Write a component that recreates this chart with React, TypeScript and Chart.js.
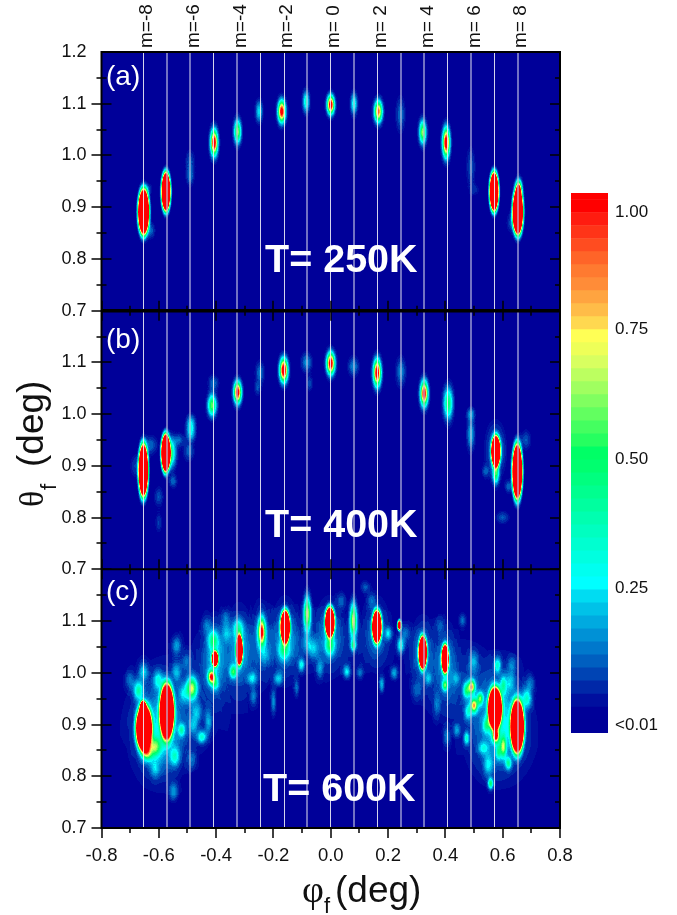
import React, { useEffect, useRef } from "react";
import { Chart, registerables } from "chart.js";

Chart.register(...registerables);

const FONT = '"Liberation Sans", Arial, sans-serif';

// Spots: [phi (deg), theta (deg), peak intensity, spread in phi (deg), spread in theta (deg)]
const spots250K = [
  [-0.653, 0.891, 2.5, 0.015, 0.034], [-0.628, 0.855, 0.12, 0.009, 0.01], [-0.638, 0.935, 0.09, 0.01, 0.007],
  [-0.575, 0.93, 2.5, 0.012, 0.029], [-0.491, 0.99, 0.1, 0.01, 0.014], [-0.491, 0.96, 0.13, 0.009, 0.012],
  [-0.407, 1.025, 1.15, 0.008, 0.016], [-0.325, 1.046, 0.65, 0.008, 0.0147], [-0.25, 1.085, 0.25, 0.008, 0.0135],
  [-0.171, 1.085, 1.1, 0.0085, 0.0135], [-0.086, 1.104, 0.35, 0.0075, 0.0135], [0, 1.098, 1.15, 0.008, 0.0115],
  [0.081, 1.1, 0.32, 0.0075, 0.0135], [0.166, 1.085, 0.9, 0.009, 0.0135], [0.244, 1.079, 0.13, 0.0105, 0.021],
  [0.321, 1.045, 0.65, 0.008, 0.0147], [0.403, 1.025, 1.15, 0.008, 0.018], [0.489, 0.978, 0.1, 0.01, 0.024],
  [0.5, 0.934, 0.06, 0.012, 0.008], [0.57, 0.93, 2.5, 0.012, 0.029], [0.653, 0.891, 2.5, 0.014, 0.034],
  [0.656, 0.934, 0.9, 0.007, 0.012], [0.635, 0.87, 0.12, 0.012, 0.012],
];

const spots400K = [
  [-0.654, 0.891, 2.5, 0.013, 0.039], [-0.68, 0.9, 0.08, 0.012, 0.015], [-0.63, 0.94, 0.12, 0.016, 0.012],
  [-0.6, 0.84, 0.1, 0.01, 0.012], [-0.576, 0.925, 2.5, 0.012, 0.028], [-0.56, 0.925, 0.5, 0.012, 0.018],
  [-0.55, 0.87, 0.12, 0.009, 0.008], [-0.53, 0.95, 0.12, 0.012, 0.008], [-0.6, 0.79, 0.08, 0.008, 0.012],
  [-0.488, 0.983, 0.24, 0.01, 0.01], [-0.488, 0.963, 0.24, 0.01, 0.01], [-0.495, 0.928, 0.12, 0.012, 0.012],
  [-0.414, 1.017, 0.6, 0.0098, 0.0135], [-0.41, 1.06, 0.12, 0.012, 0.01], [-0.325, 1.042, 1.1, 0.0085, 0.0135],
  [-0.247, 1.08, 0.14, 0.01, 0.014], [-0.255, 1.05, 0.09, 0.008, 0.009], [-0.164, 1.085, 1.2, 0.009, 0.0145],
  [-0.084, 1.1, 0.16, 0.012, 0.012], [-0.074, 1.06, 0.09, 0.008, 0.01], [0, 1.098, 1.15, 0.009, 0.0135],
  [0.079, 1.092, 0.15, 0.012, 0.012], [0.162, 1.08, 1.15, 0.0085, 0.0165], [0.245, 1.082, 0.15, 0.011, 0.018],
  [0.326, 1.04, 1.1, 0.0085, 0.0155], [0.41, 1.021, 0.5, 0.0105, 0.02], [0.489, 0.961, 0.2, 0.009, 0.02],
  [0.489, 1, 0.17, 0.009, 0.008], [0.576, 0.928, 2.5, 0.012, 0.023], [0.576, 0.884, 0.5, 0.007, 0.012],
  [0.576, 0.93, 0.2, 0.02, 0.03], [0.651, 0.889, 2.5, 0.0135, 0.041], [0.68, 0.95, 0.1, 0.012, 0.012],
  [0.6, 0.8, 0.1, 0.015, 0.008], [0.62, 0.86, 0.12, 0.008, 0.008], [0.54, 0.89, 0.1, 0.008, 0.008],
];

const spots600K = [
  [-0.55, 0.93, 0.08, 0.11, 0.07], [-0.33, 1.02, 0.06, 0.1, 0.06], [0.05, 1.05, 0.04, 0.14, 0.04], [0.45, 0.98, 0.07, 0.1, 0.06],
  [0.58, 0.88, 0.08, 0.08, 0.07], [-0.12, 1.05, 0.04, 0.1, 0.04],
  [-0.159, 1.075, 0.14, 0.028, 0.04], [-0.003, 1.08, 0.12, 0.03, 0.04], [0.161, 1.08, 0.12, 0.028, 0.04], [0.321, 1.04, 0.14, 0.025, 0.04],
  [0.399, 1.02, 0.14, 0.022, 0.04], [-0.404, 1.03, 0.18, 0.024, 0.04], [-0.319, 1.05, 0.16, 0.024, 0.04], [-0.6, 0.88, 0.2, 0.05, 0.05],
  [0.6, 0.91, 0.18, 0.05, 0.05], [-0.241, 1.07, 0.1, 0.02, 0.04],
  [-0.652, 0.893, 2.5, 0.021, 0.034], [-0.655, 0.932, 1.6, 0.008, 0.011], [-0.572, 0.925, 2.5, 0.019, 0.041],
  [-0.671, 0.966, 0.35, 0.011, 0.012], [-0.654, 1.002, 0.2, 0.011, 0.012], [-0.7, 0.986, 0.12, 0.011, 0.012],
  [-0.602, 0.986, 0.25, 0.011, 0.012], [-0.538, 1.053, 0.15, 0.011, 0.012], [-0.538, 1.002, 0.15, 0.011, 0.012],
  [-0.503, 1.021, 0.1, 0.011, 0.012], [-0.485, 0.97, 0.65, 0.012, 0.014], [-0.468, 0.924, 0.15, 0.011, 0.012],
  [-0.514, 0.96, 0.15, 0.011, 0.012], [-0.52, 0.889, 0.3, 0.008, 0.008], [-0.45, 0.876, 0.3, 0.011, 0.008],
  [-0.48, 0.899, 0.15, 0.011, 0.012], [-0.427, 0.905, 0.15, 0.008, 0.016], [-0.613, 0.857, 0.45, 0.014, 0.012],
  [-0.64, 0.845, 0.5, 0.012, 0.01], [-0.544, 0.838, 0.25, 0.011, 0.012], [-0.613, 0.815, 0.15, 0.011, 0.012],
  [-0.549, 0.77, 0.15, 0.011, 0.012], [-0.485, 0.831, 0.1, 0.011, 0.012], [-0.41, 1.063, 0.35, 0.011, 0.012],
  [-0.404, 1.027, 1.6, 0.009, 0.012], [-0.416, 0.992, 0.9, 0.008, 0.008], [-0.404, 0.979, 0.3, 0.008, 0.008],
  [-0.34, 1.002, 0.45, 0.008, 0.008], [-0.319, 1.044, 2.2, 0.009, 0.022], [-0.323, 1.085, 0.3, 0.011, 0.012],
  [-0.363, 1.076, 0.15, 0.011, 0.012], [-0.433, 1.092, 0.1, 0.011, 0.012], [-0.366, 1.105, 0.1, 0.011, 0.012],
  [-0.274, 0.989, 0.22, 0.011, 0.008], [-0.27, 0.954, 0.12, 0.008, 0.012], [-0.241, 1.079, 0.95, 0.008, 0.017],
  [-0.229, 1.034, 0.1, 0.011, 0.012], [-0.182, 0.989, 0.2, 0.011, 0.008], [-0.2, 0.944, 0.15, 0.006, 0.016],
  [-0.159, 1.089, 2.5, 0.0125, 0.024], [-0.163, 1.044, 0.35, 0.012, 0.012], [-0.061, 1.047, 0.15, 0.012, 0.012],
  [-0.102, 1.015, 0.25, 0.007, 0.008], [-0.038, 1.008, 0.15, 0.008, 0.012], [-0.119, 0.97, 0.12, 0.006, 0.012],
  [-0.082, 1.114, 0.7, 0.008, 0.022], [-0.082, 1.056, 0.12, 0.011, 0.012], [-0.003, 1.098, 2.5, 0.0125, 0.022],
  [-0.003, 1.053, 0.4, 0.01, 0.012], [0.079, 1.101, 0.7, 0.008, 0.022], [0.079, 1.053, 0.4, 0.006, 0.007],
  [0.056, 1.002, 0.25, 0.008, 0.008], [0.102, 1, 0.12, 0.008, 0.008], [0.038, 1.14, 0.1, 0.011, 0.01],
  [0.12, 1.166, 0.1, 0.011, 0.008], [0.161, 1.089, 2.5, 0.0125, 0.024], [0.143, 1.14, 0.1, 0.011, 0.01],
  [0.201, 1.076, 0.2, 0.008, 0.008], [0.178, 0.977, 0.2, 0.006, 0.01], [0.221, 1, 0.18, 0.008, 0.008],
  [0.24, 1.092, 1.25, 0.006, 0.008], [0.244, 1.053, 0.3, 0.008, 0.01], [0.259, 1.076, 0.12, 0.012, 0.012],
  [0.321, 1.039, 2.5, 0.011, 0.024], [0.341, 0.989, 0.15, 0.008, 0.008], [0.399, 1.027, 2.3, 0.0095, 0.021],
  [0.399, 0.976, 0.5, 0.006, 0.007], [0.46, 1.101, 0.12, 0.008, 0.008], [0.437, 0.989, 0.12, 0.008, 0.008],
  [0.381, 1.092, 0.08, 0.011, 0.012], [0.498, 1.021, 0.15, 0.011, 0.014], [0.492, 0.973, 0.75, 0.008, 0.009],
  [0.5, 0.937, 0.75, 0.008, 0.009], [0.521, 0.95, 0.5, 0.007, 0.008], [0.474, 0.966, 0.4, 0.008, 0.01],
  [0.48, 0.925, 0.25, 0.008, 0.01], [0.573, 0.931, 2.5, 0.018, 0.031], [0.576, 0.878, 1, 0.007, 0.008],
  [0.602, 0.976, 0.3, 0.007, 0.012], [0.602, 0.857, 0.55, 0.007, 0.014], [0.544, 0.899, 0.3, 0.008, 0.01],
  [0.582, 1.015, 0.3, 0.008, 0.01], [0.651, 0.896, 2.5, 0.018, 0.039], [0.684, 0.95, 0.3, 0.011, 0.012],
  [0.695, 0.979, 0.12, 0.011, 0.012], [0.632, 1.015, 0.12, 0.011, 0.012], [0.62, 0.825, 0.35, 0.007, 0.008],
  [0.558, 0.786, 0.45, 0.006, 0.007], [0.55, 0.822, 0.2, 0.011, 0.014], [0.474, 0.873, 0.3, 0.006, 0.008],
  [0.44, 0.889, 0.15, 0.008, 0.008], [0.405, 0.876, 0.12, 0.008, 0.012], [0.532, 0.854, 0.2, 0.011, 0.008],
  [0.37, 0.937, 0.1, 0.008, 0.016], [0.3, 0.966, 0.08, 0.011, 0.012], [0.626, 0.982, 0.15, 0.011, 0.012],
  [0.585, 0.847, 0.3, 0.006, 0.01],
];

const modeValues = [-0.653, -0.571, -0.49, -0.408, -0.326, -0.245, -0.163, -0.082, 0, 0.082, 0.163, 0.245, 0.326, 0.408, 0.49, 0.571, 0.653];
const modeLabels = ["m=-8", "", "m=-6", "", "m=-4", "", "m=-2", "", "m= 0", "", "m= 2", "", "m= 4", "", "m= 6", "", "m= 8"];
const modeLineWide = [0, 1, 1, 0, 1, 0, 0, 1, 0, 1, 0, 1, 1, 0, 1, 0, 1];

const xMinorTicks = [-0.7, -0.5, -0.3, -0.1, 0.1, 0.3, 0.5, 0.7];
const yMinorTicks = [0.75, 0.85, 0.95, 1.05, 1.15];
const panelScales = ["y1", "y2", "y3"];
const panelLetters = ["(a)", "(b)", "(c)"];
const panelTemps = ["T= 250K", "T= 400K", "T= 600K"];

// Colour scale, bottom to top
const colorBands = [
  "#000099", "#000099", "#000f9f", "#0028a8", "#0044b4", "#005fc0", "#0078cc", "#0091d6", "#00aae0", "#00c2e8", "#00dcf2",
  "#00ffff", "#00fff0", "#00ffe0", "#00ffd0", "#00ffc0", "#00ffb0", "#00ff9f", "#00ff8f", "#00ff7f", "#00ff6f", "#00ff66",
  "#26ff60", "#44ff60", "#62ff60", "#80ff60", "#a0ff60", "#bcff60", "#d8ff60", "#eeff58", "#ffff55", "#ffd850", "#ffbc48",
  "#ffa440", "#ff8c38", "#ff7a30", "#ff6428", "#ff4c20", "#ff3418", "#ff1c10", "#ff0000", "#ff0000",
];
const colorTickBands = [40, 31, 21, 11.15, 0.6];
const colorTickLabels = ["1.00", "0.75", "0.50", "0.25", "<0.01"];

const GRAY_PER_UNIT = 100;
const rgbBands = colorBands.map((c) => [parseInt(c.slice(1, 3), 16), parseInt(c.slice(3, 5), 16), parseInt(c.slice(5, 7), 16)]);
const spriteCache = new Map<string, HTMLCanvasElement>();

function spotSprite(sx: number, sy: number, peak: number) {
  const key = `${sx.toFixed(2)}|${sy.toFixed(2)}|${peak}`;
  const hit = spriteCache.get(key);
  if (hit) return hit;
  const p = peak > 1.2 ? 1.8 : 1;
  const reach = Math.pow(2 * Math.log(peak / 0.005), 1 / (2 * p));
  const hw = Math.ceil(sx * reach);
  const hh = Math.ceil(sy * reach);
  const c = document.createElement("canvas");
  c.width = 2 * hw + 1;
  c.height = 2 * hh + 1;
  const g = c.getContext("2d")!;
  const img = g.createImageData(c.width, c.height);
  for (let j = 0; j < c.height; j++) {
    for (let i = 0; i < c.width; i++) {
      const dx = (i - hw) / sx;
      const dy = (j - hh) / sy;
      const v = peak * Math.exp(-0.5 * Math.pow(dx * dx + dy * dy, p));
      const gray = Math.min(255, Math.round(v * GRAY_PER_UNIT));
      const k = 4 * (j * c.width + i);
      img.data[k] = img.data[k + 1] = img.data[k + 2] = gray;
      img.data[k + 3] = 255;
    }
  }
  g.putImageData(img, 0, 0);
  spriteCache.set(key, c);
  return c;
}

const toData = (rows: number[][]) => rows.map(([x, y, peak, sp, st]) => ({ x, y, peak, sp, st }));

const spotStyle = (ctx: any) => {
  const d = ctx.dataset.data[ctx.dataIndex];
  const sc = ctx.chart.scales;
  const xs = sc.x;
  const ys = sc[ctx.dataset.yAxisID];
  if (!xs || !ys || !d) return "circle";
  const pxX = Math.abs(xs.getPixelForValue(0.1) - xs.getPixelForValue(0)) * 10;
  const pxY = Math.abs(ys.getPixelForValue(1) - ys.getPixelForValue(0.9)) * 10;
  if (!pxX || !pxY) return "circle";
  return spotSprite(d.sp * pxX, d.st * pxY, d.peak);
};

const heatPlugin = {
  id: "heat",
  beforeDatasetsDraw(chart: any) {
    const { ctx, chartArea: a } = chart;
    ctx.save();
    ctx.fillStyle = "#000";
    ctx.fillRect(a.left, a.top, a.right - a.left, a.bottom - a.top);
    ctx.restore();
    ctx.save();
    ctx.globalCompositeOperation = "lighter";
  },
  afterDatasetsDraw(chart: any) {
    const { ctx, chartArea: a } = chart;
    ctx.restore();
    const x0 = Math.floor(a.left);
    const y0 = Math.floor(a.top);
    const w = Math.ceil(a.right) - x0;
    const h = Math.ceil(a.bottom) - y0;
    const img = ctx.getImageData(x0, y0, w, h);
    const px = img.data;
    for (let k = 0; k < px.length; k += 4) {
      const v = px[k] / GRAY_PER_UNIT;
      const idx = Math.min(rgbBands.length - 1, Math.floor(v * 40) + 1);
      const c = rgbBands[idx];
      px[k] = c[0];
      px[k + 1] = c[1];
      px[k + 2] = c[2];
      px[k + 3] = 255;
    }
    ctx.putImageData(img, x0, y0);
  },
};

const framePlugin = {
  id: "frame",
  afterDraw(chart: any) {
    const { ctx, chartArea: a, scales } = chart;
    const xs = scales.x;
    const line = (x1: number, y1: number, x2: number, y2: number, lw: number) => {
      ctx.lineWidth = lw;
      ctx.beginPath();
      ctx.moveTo(x1, y1);
      ctx.lineTo(x2, y2);
      ctx.stroke();
    };
    ctx.save();
    ctx.strokeStyle = "#000";
    // panel frames and ticks
    const xMajor = xs.ticks.map((t: any) => t.value);
    panelScales.forEach((id, pi) => {
      const ys = scales[id];
      [0.7, 0.8, 0.9, 1.0, 1.1].forEach((v) => {
        const y = Math.round(ys.getPixelForValue(v));
        line(a.left - 10, y, a.left + 10, y, 1.5);
        line(a.right - 10, y, a.right, y, 1.5);
      });
      yMinorTicks.forEach((v) => {
        const y = Math.round(ys.getPixelForValue(v));
        line(a.left - 5, y, a.left + 5, y, 1.5);
        line(a.right - 5, y, a.right, y, 1.5);
      });
      if (pi > 0) {
        const yb = ys.top;
        line(a.left, yb, a.right, yb, pi === 1 ? 3.5 : 2);
        xMajor.forEach((v: number) => {
          const x = Math.round(xs.getPixelForValue(v));
          line(x, yb - 10, x, yb + 10, 1.5);
        });
        xMinorTicks.forEach((v) => {
          const x = Math.round(xs.getPixelForValue(v));
          line(x, yb - 5, x, yb + 5, 1.5);
        });
      }
    });
    xMajor.forEach((v: number) => {
      const x = Math.round(xs.getPixelForValue(v));
      line(x, a.bottom, x, a.bottom + 10, 1.5);
    });
    xMinorTicks.forEach((v) => {
      const x = Math.round(xs.getPixelForValue(v));
      line(x, a.bottom, x, a.bottom + 5, 1.5);
    });
    ctx.lineWidth = 2;
    ctx.strokeRect(a.left, a.top, a.right - a.left, a.bottom - a.top);

    // panel captions
    ctx.fillStyle = "#fff";
    ctx.textBaseline = "alphabetic";
    ctx.textAlign = "left";
    const letterBase = [85, 348, 600];
    const tempBase = [272, 537, 801];
    const tempLeft = [265, 265, 263];
    panelLetters.forEach((t, i) => {
      ctx.font = `28px ${FONT}`;
      ctx.fillText(t, 106, letterBase[i]);
      ctx.font = `bold 39.5px ${FONT}`;
      ctx.fillText(panelTemps[i], tempLeft[i], tempBase[i]);
    });

    // axis titles
    ctx.fillStyle = "#111";
    ctx.font = `38px "Liberation Serif", serif`;
    ctx.fillText("\u03c6", 302, 902);
    ctx.font = `22px ${FONT}`;
    ctx.fillText("f", 324, 913);
    ctx.font = `37px ${FONT}`;
    ctx.fillText("(deg)", 335, 902);

    ctx.save();
    ctx.translate(43, 507);
    ctx.rotate(-Math.PI / 2);
    ctx.font = `34px "Liberation Serif", serif`;
    ctx.fillText("\u03b8", 0, 0);
    ctx.font = `22px ${FONT}`;
    ctx.fillText("f", 17, 13);
    ctx.font = `37px ${FONT}`;
    ctx.fillText("(deg)", 40, 0);
    ctx.restore();
    ctx.restore();
  },
};

export default function App() {
  const mainRef = useRef<HTMLCanvasElement>(null);
  const barRef = useRef<HTMLCanvasElement>(null);

  useEffect(() => {
    const panelAxis = (id: string) => ({
      type: "linear",
      position: "left",
      stack: "panels",
      stackWeight: 1,
      min: 0.7,
      max: 1.2,
      grid: { display: false, drawTicks: false },
      border: { display: false },
      afterFit: (s: any) => {
        s.width = 101.5;
      },
      ticks: {
        stepSize: 0.1,
        padding: 15,
        color: "#111",
        font: { family: FONT, size: 18 },
        callback: (v: number) => (Math.abs(v - 1.2) < 1e-6 && id !== "y1" ? "" : Number(v).toFixed(1)),
      },
    });

    const main = new Chart(mainRef.current!, {
      type: "scatter",
      data: {
        datasets: [spots250K, spots400K, spots600K].map((rows, i) => ({
          label: panelTemps[i],
          data: toData(rows),
          yAxisID: panelScales[i],
          xAxisID: "x",
          showLine: false,
          pointRadius: 3,
          pointBorderWidth: 0,
          pointStyle: spotStyle,
        })) as any,
      },
      options: {
        responsive: false,
        animation: false,
        events: [],
        layout: { padding: { top: 0, left: 0, right: 117, bottom: 0 } },
        plugins: { legend: { display: false }, tooltip: { enabled: false } },
        scales: {
          x: {
            type: "linear",
            position: "bottom",
            min: -0.8,
            max: 0.8,
            grid: { display: false, drawTicks: false },
            border: { display: false },
            afterFit: (s: any) => {
              s.height = 87;
            },
            ticks: {
              stepSize: 0.2,
              padding: 17,
              maxRotation: 0,
              color: "#111",
              font: { family: FONT, size: 18.5 },
              callback: (v: number) => (Math.abs(v) < 1e-9 ? "0.0" : Number(v).toFixed(1)),
            },
          },
          x2: {
            type: "linear",
            position: "top",
            min: -0.8,
            max: 0.8,
            afterBuildTicks: (s: any) => {
              s.ticks = modeValues.map((value) => ({ value }));
            },
            afterFit: (s: any) => {
              s.height = 52;
            },
            grid: {
              z: 1,
              drawTicks: false,
              lineWidth: (c: any) => (modeLineWide[c.index] ? 2 : 1),
              color: (c: any) => (modeLineWide[c.index] ? "rgba(190,190,225,0.6)" : "rgba(235,235,245,0.9)"),
            },
            border: { display: false },
            ticks: {
              autoSkip: false,
              minRotation: 90,
              maxRotation: 90,
              padding: 4,
              labelOffset: 26,
              color: "#111",
              font: { family: FONT, size: 19 },
              callback: (_v: number, i: number) => modeLabels[i],
            },
          },
          y3: panelAxis("y3"),
          y2: panelAxis("y2"),
          y1: panelAxis("y1"),
        } as any,
      },
      plugins: [heatPlugin, framePlugin],
    } as any);

    const bar = new Chart(barRef.current!, {
      type: "bar",
      data: {
        labels: ["scale"],
        datasets: colorBands.map((c, i) => ({
          label: `band ${i}`,
          data: [[i, i + 1]],
          backgroundColor: c,
          grouped: false,
          barPercentage: 1,
          categoryPercentage: 1,
          borderWidth: 0,
        })) as any,
      },
      options: {
        responsive: false,
        animation: false,
        events: [],
        layout: { padding: { top: 13, bottom: 17, left: 11, right: 0 } },
        plugins: { legend: { display: false }, tooltip: { enabled: false } },
        scales: {
          x: { display: false, grid: { display: false } },
          y: {
            position: "right",
            min: 0,
            max: 41.5,
            grid: { display: false, drawTicks: false },
            border: { display: false },
            afterFit: (s: any) => {
              s.width = 69;
              s.paddingTop = 0;
              s.paddingBottom = 0;
            },
            afterBuildTicks: (s: any) => {
              s.ticks = colorTickBands.map((value) => ({ value }));
            },
            ticks: {
              autoSkip: false,
              padding: 7,
              color: "#111",
              font: { family: FONT, size: 17 },
              callback: (_v: number, i: number) => colorTickLabels[i],
            },
          },
        },
      } as any,
    } as any);

    return () => {
      main.destroy();
      bar.destroy();
    };
  }, []);

  return (
    <div style={{ position: "fixed", left: 0, top: 0, width: 677, height: 915, background: "#fff", overflow: "hidden" }}>
      <canvas ref={mainRef} width={677} height={915} style={{ position: "absolute", left: 0, top: 0, display: "block" }} />
      <canvas ref={barRef} width={117} height={570} style={{ position: "absolute", left: 560, top: 180, display: "block" }} />
    </div>
  );
}
